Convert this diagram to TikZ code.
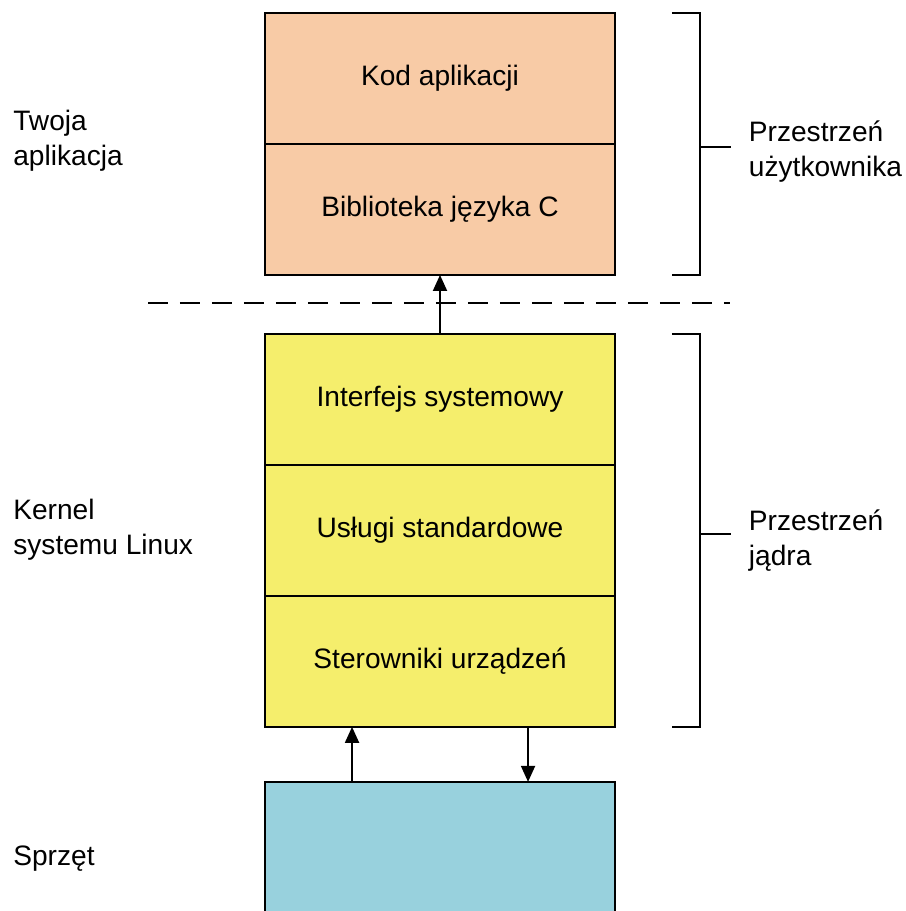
\documentclass[tikz,border=0pt]{standalone}
\usepackage{fontspec}
\setmainfont{Liberation Sans}
\usetikzlibrary{arrows.meta,positioning,calc}
\definecolor{appfill}{HTML}{F8CBA6}
\definecolor{kernfill}{HTML}{F5EE6C}
\definecolor{hwfill}{HTML}{98D1DD}
\newcommand{\layerfont}{\fontsize{16}{19.8}\selectfont}
\tikzset{
  layer/.style={draw=black,line width=1.1pt,fill=appfill,minimum width=7cm,
    minimum height=2.62cm,inner sep=0pt,outer sep=0pt,align=center,font=\layerfont},
  layerk/.style={layer,fill=kernfill},
  layerh/.style={layer,fill=hwfill,minimum height=3.04cm},
  side/.style={inner sep=0pt,align=left,anchor=west,font=\layerfont},
  flow/.style={-{Triangle[length=3.2mm,width=2.8mm]},line width=1.1pt},
  brace/.style={line width=1.1pt},
  split/.style={line width=1.1pt,dash pattern=on 0.4cm off 0.24cm},
}
\begin{document}
\begin{tikzpicture}[x=0.02cm,y=-0.02cm]
  \clip (0,0) rectangle (905,911);
  % user space
  \node[layer](kod) at (440,78.5){Kod aplikacji};
  \node[layer,below=0pt of kod](bib){Biblioteka języka C};
  % kernel
  \node[layerk,below=1.18cm of bib](sys){Interfejs systemowy};
  \node[layerk,below=0pt of sys](usl){Usługi standardowe};
  \node[layerk,below=0pt of usl](drv){Sterowniki urządzeń};
  % hardware
  \node[layerh,below=1.1cm of drv](hw){};
  \draw[split] (148,303) -- (730,303);
  \draw[flow] (sys.north) -- (bib.south);
  \draw[flow] ($(hw.north west)+(87,0)$) -- ($(drv.south west)+(87,0)$);
  \draw[flow] ($(drv.south west)+(263,0)$) -- ($(hw.north west)+(263,0)$);
  % brackets on the right
  \draw[brace] ($(kod.north east)+(57,0)$) -- ++(28,0) |- ($(bib.south east)+(57,0)$);
  \draw[brace] ($(kod.north east)!0.51!(bib.south east)+(85,0)$) -- ++(31,0)
    node[side,xshift=0.34cm,yshift=-0.1cm](usr){Przestrzeń\\użytkownika};
  \draw[brace] ($(sys.north east)+(57,0)$) -- ++(28,0) |- ($(drv.south east)+(57,0)$);
  \draw[brace] ($(sys.north east)!0.51!(drv.south east)+(85,0)$) -- ++(31,0)
    node[side,xshift=0.34cm,yshift=-0.12cm](krn){Przestrzeń\\jądra};
  % labels on the left
  \node[side](app) at (13,141){Twoja\\aplikacja};
  \node[side](lnx) at (13,530){Kernel\\systemu Linux};
  \node[side](hwl) at (13,859){Sprzęt};
\end{tikzpicture}
\end{document}
